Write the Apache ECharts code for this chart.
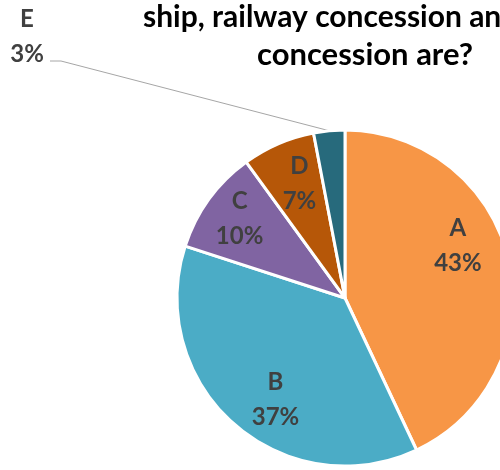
<!DOCTYPE html>
<html>
<head>
<meta charset="utf-8">
<script src="https://cdn.jsdelivr.net/npm/echarts@6/dist/echarts.min.js"></script>
<style>html,body{margin:0;padding:0;background:#fff;}#c{width:500px;height:470px;}</style>
</head>
<body>
<div id="c"></div>
<script>
const categories = ['A', 'B', 'C', 'D', 'E'];
const values = [43, 37, 10, 7, 3];
const colors = ['#F79646', '#4BACC6', '#8064A2', '#B65708', '#276A7C'];
const titleLine1 = 'ship, railway concession and';
const titleLine2 = 'concession are?';

const labelShift = [[28, -33], [-12, 37], [-35, -28], [-11, -34], null];

const richStyle = (col) => ({
  t: { fontFamily: 'Lato', fontWeight: 'bold', fontSize: 24, lineHeight: 35, color: col, align: 'center' }
});

const chart = echarts.init(document.getElementById('c'));
chart.setOption({
  animation: false,
  backgroundColor: '#ffffff',
  graphic: [
    { type: 'text', style: { text: titleLine1, x: 143, y: 17, textAlign: 'left', textVerticalAlign: 'middle',
      font: 'bold 30px Lato', fill: '#000' } },
    { type: 'text', style: { text: titleLine2, x: 365, y: 55, textAlign: 'center', textVerticalAlign: 'middle',
      font: 'bold 31px Lato', fill: '#000' } }
  ],
  series: [{
    type: 'pie',
    center: [345, 298],
    radius: [0, 168],
    startAngle: 90,
    clockwise: true,
    avoidLabelOverlap: false,
    itemStyle: { borderColor: '#fff', borderWidth: 3 },
    label: {
      show: true,
      position: 'inside',
      formatter: '{t|{b}}\n{t|{d}%}',
      rich: richStyle('#404040')
    },
    labelLine: { show: false },
    labelLayout: function (p) {
      const s = labelShift[p.dataIndex];
      if (s) return { dx: s[0], dy: s[1] };
      const start = p.labelLinePoints ? p.labelLinePoints[0] : [326, 128];
      return { x: 27, y: 37, align: 'center', verticalAlign: 'middle',
        labelLinePoints: [start, [61, 61], [50, 61]] };
    },
    data: categories.map((c, i) => {
      const d = { name: c, value: values[i], itemStyle: { color: colors[i] } };
      if (c === 'E') {
        d.label = { position: 'outside', formatter: '{t|{b}}\n{t|{d}%}', rich: richStyle('#404040') };
        d.labelLine = { show: true, lineStyle: { color: '#A6A6A6', width: 1 }, length: 20, length2: 10 };
      }
      return d;
    })
  }]
});
</script>
</body>
</html>
